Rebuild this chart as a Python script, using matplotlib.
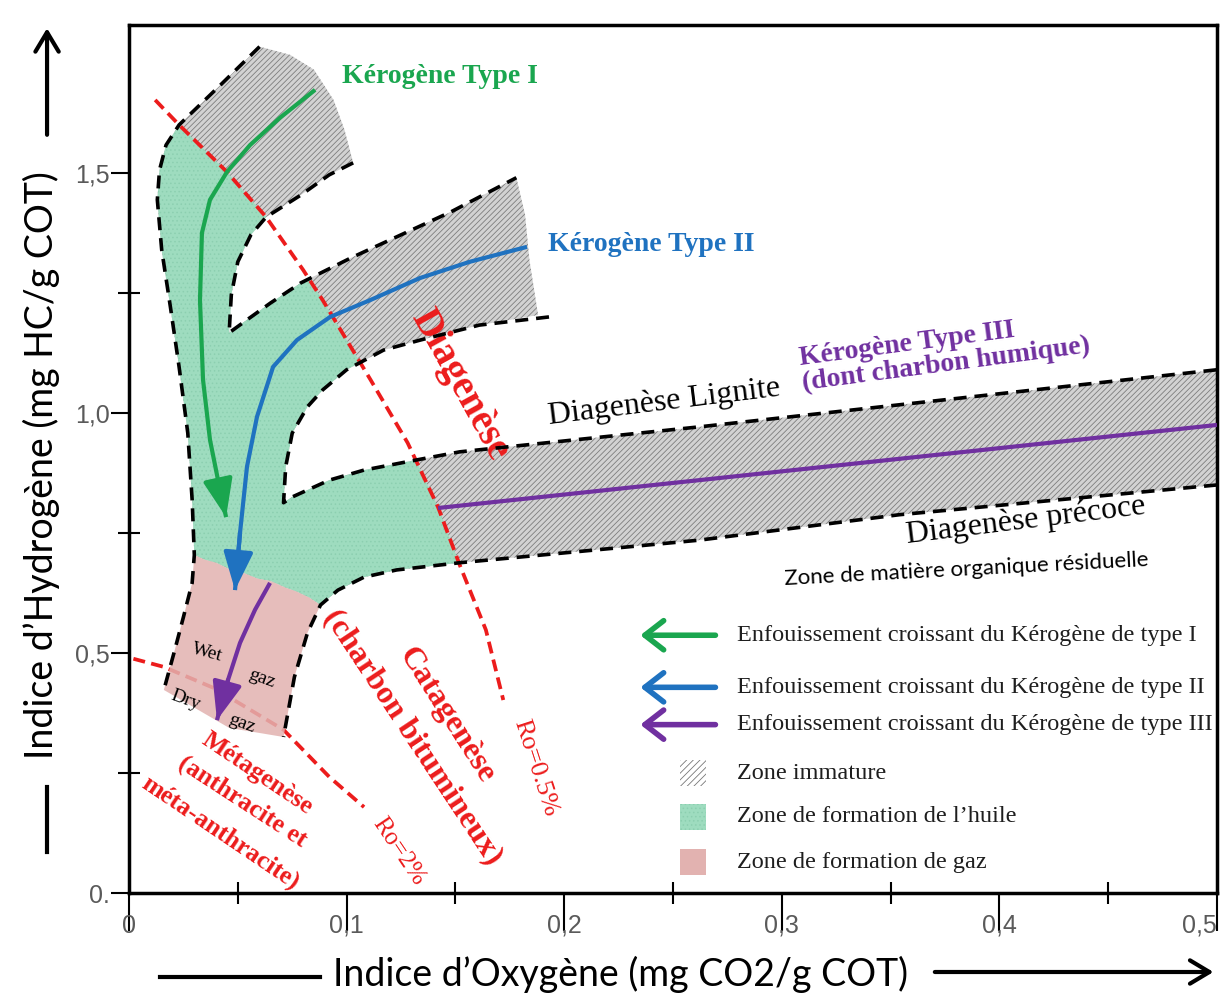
import matplotlib
matplotlib.use('Agg')

import matplotlib.pyplot as plt
import numpy as np
from matplotlib.patches import Polygon, Rectangle, FancyArrowPatch

plt.rcParams['hatch.linewidth'] = 0.6

SERIF = 'Liberation Serif'

# outer (left) limit of the maturation domain, from the type I top down to the gas zone
outer_x = [0.060, 0.042, 0.023, 0.017, 0.014, 0.013, 0.015, 0.019, 0.023, 0.027, 0.029, 0.030,
           0.029, 0.025, 0.021, 0.016]
outer_y = [1.763, 1.683, 1.600, 1.558, 1.506, 1.444, 1.340, 1.221, 1.096, 0.958, 0.819, 0.704,
           0.646, 0.575, 0.506, 0.423]

# end of the type I band
cap1_x = [0.060, 0.074, 0.085, 0.094, 0.099, 0.103]
cap1_y = [1.763, 1.746, 1.715, 1.652, 1.590, 1.521]

# gap between type I and type II bands
gap12_x = [0.103, 0.092, 0.079, 0.063, 0.056, 0.050, 0.047, 0.046, 0.053, 0.065, 0.079, 0.102,
           0.125, 0.148, 0.178]
gap12_y = [1.521, 1.496, 1.454, 1.408, 1.371, 1.315, 1.246, 1.167, 1.190, 1.229, 1.271, 1.323,
           1.371, 1.419, 1.490]

# end of the type II band
cap2_x = [0.178, 0.182, 0.184, 0.188]
cap2_y = [1.490, 1.413, 1.319, 1.204]

# gap between type II and type III bands
gap23_x = [0.193, 0.161, 0.134, 0.117, 0.100, 0.089, 0.082, 0.075, 0.072, 0.071, 0.075, 0.092,
           0.108, 0.132, 0.152, 0.262, 0.500]
gap23_y = [1.200, 1.183, 1.152, 1.131, 1.090, 1.048, 1.013, 0.958, 0.888, 0.813, 0.825, 0.860,
           0.881, 0.902, 0.919, 0.971, 1.090]

# lower limit of the type III band, continued along the gas zone
low3_x = [0.500, 0.354, 0.262, 0.152, 0.123, 0.108, 0.096, 0.088, 0.082, 0.076, 0.071]
low3_y = [0.850, 0.788, 0.735, 0.688, 0.673, 0.658, 0.631, 0.600, 0.542, 0.450, 0.325]

# oil / gas transition (upper edge of the gas zone)
gas_top_x = [0.088, 0.083, 0.077, 0.072, 0.065, 0.059, 0.052, 0.046, 0.040, 0.035, 0.030]
gas_top_y = [0.600, 0.615, 0.628, 0.636, 0.650, 0.655, 0.668, 0.675, 0.688, 0.694, 0.704]
gas_bot_x = [0.071, 0.046, 0.016]
gas_bot_y = [0.325, 0.344, 0.423]

# vitrinite reflectance iso-lines
ro05_x = [0.012, 0.023, 0.045, 0.063, 0.080, 0.089, 0.100, 0.111, 0.128, 0.142, 0.152, 0.164, 0.172]
ro05_y = [1.652, 1.600, 1.502, 1.408, 1.298, 1.235, 1.152, 1.069, 0.938, 0.804, 0.683, 0.548, 0.402]
ro2_x = [0.002, 0.016, 0.039, 0.071, 0.092, 0.108]
ro2_y = [0.488, 0.471, 0.427, 0.340, 0.242, 0.179]

# evolution paths of the three kerogen types
path1_x = [0.0855, 0.0694, 0.0556, 0.0450, 0.0372, 0.0335, 0.0326, 0.0340, 0.0372, 0.0409, 0.0446]
path1_y = [1.673, 1.615, 1.558, 1.502, 1.444, 1.375, 1.235, 1.069, 0.944, 0.860, 0.783]
path2_x = [0.1829, 0.1567, 0.1337, 0.1108, 0.0924, 0.0772, 0.0662, 0.0588, 0.0542, 0.0510, 0.0487]
path2_y = [1.346, 1.315, 1.281, 1.235, 1.200, 1.152, 1.096, 0.992, 0.888, 0.750, 0.631]
path3_x = [0.142, 0.500]
path3_y = [0.802, 0.975]
path3_gas_x = [0.0648, 0.0579, 0.0510, 0.0455, 0.0404]
path3_gas_y = [0.646, 0.590, 0.521, 0.444, 0.360]

xticks = [0, 0.1, 0.2, 0.3, 0.4, 0.5]
xtick_labels = ['0', '0,1', '0,2', '0,3', '0,4', '0,5']
yticks = [0, 0.5, 1.0, 1.5]
ytick_labels = ['0.', '0,5', '1,0', '1,5']

legend_labels = ['Enfouissement croissant du Kérogène de type I',
                 'Enfouissement croissant du Kérogène de type II',
                 'Enfouissement croissant du Kérogène de type III',
                 'Zone immature',
                 "Zone de formation de l\u2019huile",
                 'Zone de formation de gaz']

GREEN = '#1aa64f'
BLUE = '#1f72c0'
PURPLE = '#7030a0'
RED = '#ec1c1c'
OIL = '#9edcbf'
GAS = '#e2b2b0'

fig = plt.figure(figsize=(12.22, 10.06), dpi=100)
ax = fig.add_axes([0.1056, 0.1123, 0.8903, 0.8628])
ax.set_xlim(0, 0.5)
ax.set_ylim(0, 1.808)

# whole domain = hatched immature zone
env_x = cap1_x + gap12_x[1:] + cap2_x[1:] + gap23_x[1:] + low3_x[:8] + gas_top_x[1:] + outer_x[:12][::-1][1:]
env_y = cap1_y + gap12_y[1:] + cap2_y[1:] + gap23_y[1:] + low3_y[:8] + gas_top_y[1:] + outer_y[:12][::-1][1:]
env = np.column_stack([env_x, env_y])

ax.add_patch(Polygon(env, closed=True, facecolor='#d2d2d2', edgecolor='#7d7d7d',
                     hatch='//////', lw=0, zorder=1))

# oil window: the domain beyond Ro = 0.5 %
oil = Polygon(env, closed=True, facecolor=OIL, edgecolor='#8ccfb0', hatch='....', lw=0, zorder=2)
ax.add_patch(oil)
mature = np.column_stack([[-0.05] + ro05_x + [0.25, -0.05], [1.72] + ro05_y + [-0.2, -0.2]])
clip = Polygon(mature, closed=True, transform=ax.transData, visible=False)
ax.add_patch(clip)
oil.set_clip_path(clip)

# Ro iso-lines
dash_red = (0, (3.2, 1.7))
ax.plot(ro05_x, ro05_y, color=RED, lw=2.7, linestyle=dash_red, zorder=4)
ax.plot(ro2_x, ro2_y, color=RED, lw=2.7, linestyle=dash_red, zorder=2.5)

# gas zone, drawn over the Ro = 2 % line
gas_x = gas_top_x + outer_x[12:] + gas_bot_x[::-1][1:] + low3_x[7:][::-1][1:]
gas_y = gas_top_y + outer_y[12:] + gas_bot_y[::-1][1:] + low3_y[7:][::-1][1:]
ax.add_patch(Polygon(np.column_stack([gas_x, gas_y]), closed=True, facecolor=GAS,
                     edgecolor='none', alpha=0.85, zorder=3))

# dashed limits
dash_k = (0, (3.6, 2.2))
for xs, ys in [(outer_x, outer_y), (gap12_x, gap12_y), (gap23_x, gap23_y), (low3_x, low3_y)]:
    ax.plot(xs, ys, color='black', lw=2.6, linestyle=dash_k, zorder=5)


def burial(xs, ys, color):
    ax.plot(xs, ys, color=color, lw=3, zorder=6, solid_capstyle='butt')
    if len(xs) > 2:
        ax.annotate('', xy=(xs[-1], ys[-1]), xytext=(xs[-2], ys[-2]),
                    arrowprops=dict(arrowstyle='-|>,head_length=0.9,head_width=0.35',
                                    mutation_scale=26, color=color, lw=3, shrinkA=0, shrinkB=0),
                    zorder=6)


burial(path1_x, path1_y, GREEN)
burial(path2_x, path2_y, BLUE)
burial(path3_x, path3_y, PURPLE)
burial(path3_gas_x, path3_gas_y, PURPLE)

# axes frame and ticks
for s in ax.spines.values():
    s.set_linewidth(2.5)
ax.set_xticks(xticks)
ax.set_xticklabels(xtick_labels)
ax.set_xticks([0.05, 0.15, 0.25, 0.35, 0.45], minor=True)
ax.set_yticks(yticks)
ax.set_yticklabels(ytick_labels)
ax.set_yticks([0.25, 0.75, 1.25], minor=True)
ax.tick_params(axis='x', which='major', direction='out', length=27, width=1.5, pad=-12,
               labelsize=18, labelcolor='#5a5a5a')
ax.tick_params(axis='y', which='major', direction='out', length=13, width=1.5, pad=1,
               labelsize=18, labelcolor='#5a5a5a')
ax.tick_params(which='minor', direction='inout', length=16, width=1.5)
for lab in ax.get_xticklabels() + ax.get_yticklabels():
    lab.set_fontfamily('Liberation Sans')
ax.get_xticklabels()[-1].set_horizontalalignment('right')

# kerogen names
ax.text(0.143, 1.700, 'Kérogène Type I', color=GREEN, fontsize=20, fontweight='bold',
        family=SERIF, ha='center', va='center')
ax.text(0.240, 1.350, 'Kérogène Type II', color=BLUE, fontsize=20, fontweight='bold',
        family=SERIF, ha='center', va='center')
ax.text(0.375, 1.127, 'Kérogène Type III\n(dont charbon humique)', color=PURPLE, fontsize=20,
        fontweight='bold', family=SERIF, ha='center', va='center', rotation=7.5,
        rotation_mode='anchor', multialignment='left', linespacing=1.0)

ax.text(0.246, 1.023, 'Diagenèse Lignite', fontsize=23, family=SERIF, ha='center', va='center',
        rotation=7, rotation_mode='anchor')
ax.text(0.412, 0.775, 'Diagenèse précoce', fontsize=23, family=SERIF, ha='center', va='center',
        rotation=7, rotation_mode='anchor')
ax.text(0.385, 0.673, 'Zone de matière organique résiduelle', fontsize=16, family='Lato',
        ha='center', va='center', rotation=3, rotation_mode='anchor')

# maturation stages
red_kw = dict(color=RED, family=SERIF, ha='center', va='center', rotation_mode='anchor')
ax.text(0.152, 1.058, 'Diagenèse', fontsize=28, rotation=-61, fontweight='bold', **red_kw)
ax.text(0.146, 0.371, 'Catagenèse', fontsize=23, rotation=-57.4, fontweight='bold', **red_kw)
ax.text(0.1305, 0.325, '(charbon bitumineux)', fontsize=23, rotation=-56.4, fontweight='bold', **red_kw)
ax.text(0.059, 0.250, 'Métagenèse', fontsize=18.5, rotation=-34, fontweight='bold', **red_kw)
ax.text(0.052, 0.190, '(anthracite et', fontsize=18.5, rotation=-33, fontweight='bold', **red_kw)
ax.text(0.042, 0.125, 'méta-anthracite)', fontsize=18.5, rotation=-34, fontweight='bold', **red_kw)
ax.text(0.1866, 0.260, 'Ro=0.5%', fontsize=19, rotation=-72, **red_kw)
ax.text(0.124, 0.0875, 'Ro=2%', fontsize=18, rotation=-56, **red_kw)

gas_kw = dict(fontsize=14, family=SERIF, ha='center', va='center', rotation_mode='anchor', zorder=7)
ax.text(0.036, 0.500, 'Wet', rotation=-15, **gas_kw)
ax.text(0.061, 0.446, 'gaz', rotation=-20, **gas_kw)
ax.text(0.026, 0.402, 'Dry', rotation=-20, **gas_kw)
ax.text(0.052, 0.352, 'gaz', rotation=-20, **gas_kw)

# legend
rows = [0.297, 0.237, 0.194, 0.138, 0.0876, 0.0357]
for y, c in zip(rows[:3], [GREEN, BLUE, PURPLE]):
    ax.annotate('', xy=(0.470, y), xytext=(0.539, y), xycoords='axes fraction',
                arrowprops=dict(arrowstyle='->,head_length=0.45,head_width=0.35',
                                mutation_scale=30, color=c, lw=4, shrinkA=0, shrinkB=0))
sw_kw = dict(width=0.024, height=0.030, transform=ax.transAxes, lw=0)
ax.add_patch(Rectangle((0.506, rows[3] - 0.015), facecolor='white', edgecolor='#777777',
                       hatch='/////', **sw_kw))
ax.add_patch(Rectangle((0.506, rows[4] - 0.015), facecolor=OIL, edgecolor='#8ccfb0',
                       hatch='....', **sw_kw))
ax.add_patch(Rectangle((0.506, rows[5] - 0.015), facecolor=GAS, edgecolor='none', **sw_kw))
for y, lab in zip(rows, legend_labels):
    ax.text(0.559, y, lab, transform=ax.transAxes, fontsize=17.5, family=SERIF,
            color='#1e1e1e', ha='left', va='center')

# axis titles with direction arrows
fig.text(0.034, 0.538, 'Indice d\u2019Hydrogène (mg HC/g COT)', rotation=90, fontsize=27,
         family='Lato', ha='center', va='center')
fig.text(0.508, 0.031, 'Indice d\u2019Oxygène (mg CO2/g COT)', fontsize=27,
         family='Lato', ha='center', va='center')
fig.add_artist(plt.Line2D([0.0385, 0.0385], [0.153, 0.218], color='black', lw=3))
fig.add_artist(plt.Line2D([0.131, 0.262], [0.0288, 0.0288], color='black', lw=3))
fig.patches.append(FancyArrowPatch(
    (0.0385, 0.866), (0.0385, 0.972), transform=fig.transFigure,
    arrowstyle='->,head_length=0.5,head_width=0.3',
    mutation_scale=28, color='black', lw=3, shrinkA=0, shrinkB=0))
fig.patches.append(FancyArrowPatch(
    (0.765, 0.0338), (0.993, 0.0338), transform=fig.transFigure,
    arrowstyle='->,head_length=0.5,head_width=0.3',
    mutation_scale=28, color='black', lw=3, shrinkA=0, shrinkB=0))

fig.savefig('out.png', dpi=100)
